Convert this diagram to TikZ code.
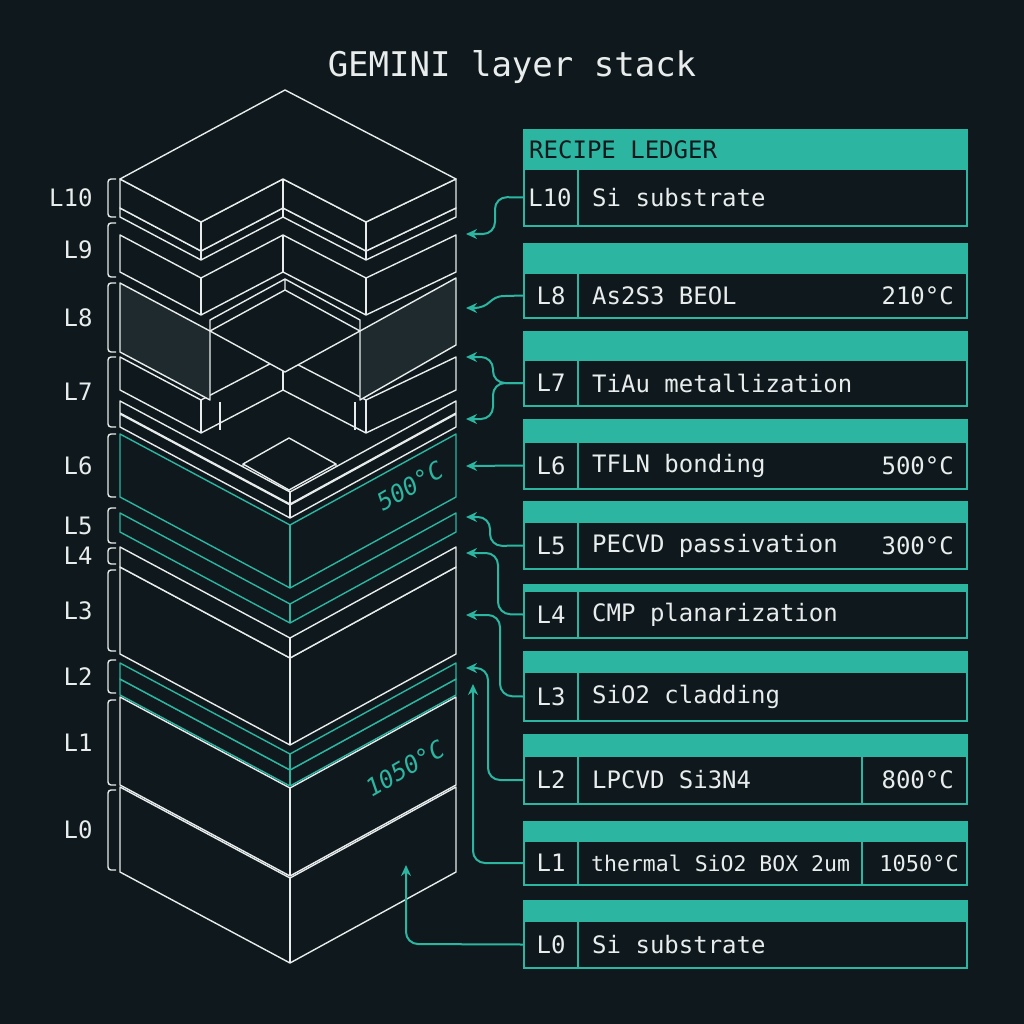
\documentclass[tikz,border=0pt]{standalone}
\usepackage{fontspec}
\setmonofont{DejaVu Sans Mono}
\usetikzlibrary{arrows.meta}
\definecolor{bg}{HTML}{0F191D}
\definecolor{teal}{HTML}{2CB5A0}
\definecolor{wl}{HTML}{E8ECEC}
\definecolor{shade}{HTML}{1F2A2E}
\tikzset{
 wline/.style={draw=wl,line width=1.4pt,line join=round},
 tline/.style={draw=teal,line width=1.4pt,line join=round},
 lbl/.style={text=wl,font=\ttfamily\fontsize{24}{24}\selectfont},
 ttxt/.style={text=wl,font=\ttfamily\fontsize{24}{24}\selectfont,anchor=west,inner sep=0},
 row/.style={draw=teal,line width=2.5pt,fill=bg},
 arr/.style={draw=teal,line width=2pt,rounded corners=12pt,-{Stealth[length=11pt,width=10pt]}},
 brk/.style={draw=wl,line width=1.4pt,rounded corners=3pt},
 temp/.style={text=teal,font=\ttfamily\itshape\fontsize{24}{24}\selectfont,rotate=30}
}
\newcommand\vslab[3]{%
 \filldraw[#1,fill=bg] (120,#2)--(290,{#2+91})--(456,#2)--(456,#3)--(290,{#3+91})--(120,#3)--cycle;
 \draw[#1] (290,{#2+91})--(290,{#3+91});}
\newcommand\wslab[3]{%
 \filldraw[#1,fill=bg] (120,#2)--(201,{#2+43})--(283,#2)--(366,{#2+43})--(456,#2)--(456,#3)--(366,{#3+43})--(283,#3)--(201,{#3+43})--(120,#3)--cycle;
 \draw[#1] (201,{#2+43})--(201,{#3+43}) (283,#2)--(283,#3) (366,{#2+43})--(366,{#3+43});}
\begin{document}
\begin{tikzpicture}[x=1pt,y=-1pt]
\fill[bg] (0,0) rectangle (1024,1024);
\useasboundingbox (0,0) rectangle (1024,1024);
\node[lbl,font=\ttfamily\fontsize{34}{34}\selectfont] (title) at (512,67) {GEMINI layer stack};
% ---- stack, bottom to top
\vslab{wline}{787}{872}
\vslab{wline}{697}{785}
\vslab{tline}{679}{695}
\vslab{tline}{663}{679}
\vslab{wline}{567}{654}
\vslab{wline}{547}{567}
\vslab{tline}{513}{532}
\vslab{tline}{434}{497}
% small diamond on L6
\filldraw[wline,fill=bg] (243,464)--(289,438)--(336,464)--(336,474)--(289,500)--(243,474)--cycle;
\draw[wline] (243,464)--(289,490)--(336,464) (289,490)--(289,500);
\node[temp] (t500) at (410,486) {500°C};
\node[temp] (t1050) at (405,768) {1050°C};
% L7
\vslab{wline}{414}{427}
\vslab{wline}{401}{413}
\wslab{wline}{357}{390}
\draw[wline] (220,402)--(220,430) (355,402)--(355,430);
% L8
\filldraw[wline,fill=shade] (120,283)--(210,331)--(210,400)--(120,352)--cycle;
\filldraw[wline,fill=shade] (360,331)--(456,278)--(456,345)--(360,400)--cycle;
\filldraw[wline,fill=bg] (210,331)--(285,290)--(360,331)--(285,372)--cycle;
\draw[wline] (210,331)--(210,320)--(285,279)--(360,320)--(360,331) (285,279)--(285,290);
% L9, L10
\wslab{wline}{235}{272}
\wslab{wline}{208}{217}
\wslab{wline}{179}{208}
\filldraw[wline,fill=bg] (120,179)--(285,90)--(456,179)--(366,222)--(283,179)--(201,222)--cycle;
% ---- brackets and labels
\foreach \n/\a/\b in {L10/179/217,L9/223/277,L8/283/352,L7/357/427,L6/434/497,L5/508/543,L4/548/564,L3/570/651,L2/660/693,L1/700/785,L0/790/870}{
 \draw[brk] (116,\a)--(108,\a)--(108,\b)--(116,\b);
 \node[lbl,anchor=east] (lab\n) at (96,{(\a+\b)/2}) {\n};
}
% ---- ledger
\foreach \nm/\bt/\rt/\rb in {r10/129/169/226,r8/243/273/318,r7/331/360/406,r6/419/442/489,r5/501/522/569,r4/584/591/638,r3/651/672/721,r2/734/756/804,r1/821/841/885,r0/900/921/968}{
 \fill[teal] (523,\bt) rectangle (968,\rt);
 \draw[row] (524,\rt) rectangle (967,\rb);
 \draw[teal,line width=2.5pt] (578,\rt)--(578,\rb);
 \coordinate (\nm) at (523,{(\rt+\rb)/2});
}
\node[anchor=west,inner sep=0,text=bg,font=\ttfamily\fontsize{24}{24}\selectfont] (hdr) at (529,150) {RECIPE LEDGER};
\draw[teal,line width=2.5pt] (862,756)--(862,804) (862,841)--(862,885);
\foreach \c/\l/\t/\v in {r8/L8/As2S3 BEOL/210°C,r7/L7/TiAu metallization/,r6/L6/TFLN bonding/500°C,r5/L5/PECVD passivation/300°C,r4/L4/CMP planarization/,r3/L3/SiO2 cladding/,r2/L2/LPCVD Si3N4/800°C,r0/L0/Si substrate/}{
 \node[lbl] (\c id) at ([xshift=28pt]\c) {\l};
 \node[ttxt] (\c tx) at ([xshift=69pt]\c) {\t};
 \node[ttxt,anchor=east] (\c tv) at ([xshift=431pt]\c) {\v};
}
\node[lbl] (r10id) at ([xshift=27pt]r10) {L10};
\node[ttxt] (r10tx) at ([xshift=69pt]r10) {Si substrate};
\node[lbl] (r1id) at ([xshift=28pt]r1) {L1};
\node[ttxt,font=\ttfamily\fontsize{21.5}{21.5}\selectfont] (r1tx) at ([xshift=68pt]r1) {thermal SiO2 BOX 2um};
\node[ttxt,anchor=east,font=\ttfamily\fontsize{22}{22}\selectfont] (r1tv) at ([xshift=436pt]r1) {1050°C};
% ---- arrows
\coordinate (a10) at (466,234); \coordinate (a8) at (466,308);
\coordinate (a7a) at (466,357); \coordinate (a7b) at (466,419);
\coordinate (a6) at (466,466); \coordinate (a5) at (466,517);
\coordinate (a4) at (466,553); \coordinate (a3) at (466,615);
\coordinate (a2) at (466,668); \coordinate (a1) at (473,684);
\coordinate (a0) at (406,865);
\draw[arr] (r10)--(495,197)--(495,234)--(a10);
\draw[arr,rounded corners=0] (r8)--(505,296) .. controls (488,296) and (492,308) .. (a8);
\draw[arr] (r7)--(493,383)--(493,357)--(a7a);
\draw[arr] (r7)--(493,383)--(493,419)--(a7b);
\draw[arr] (r6)--(a6);
\draw[arr] (r5)--(490,546)--(490,517)--(a5);
\draw[arr] (r4)--(498,614)--(498,553)--(a4);
\draw[arr] (r3)--(500,696)--(500,615)--(a3);
\draw[arr] (r2)--(488,780)--(488,668)--(a2);
\draw[arr] (r1)--(473,863)--(a1);
\draw[arr] (r0)--(406,944)--(a0);
\end{tikzpicture}
\end{document}
